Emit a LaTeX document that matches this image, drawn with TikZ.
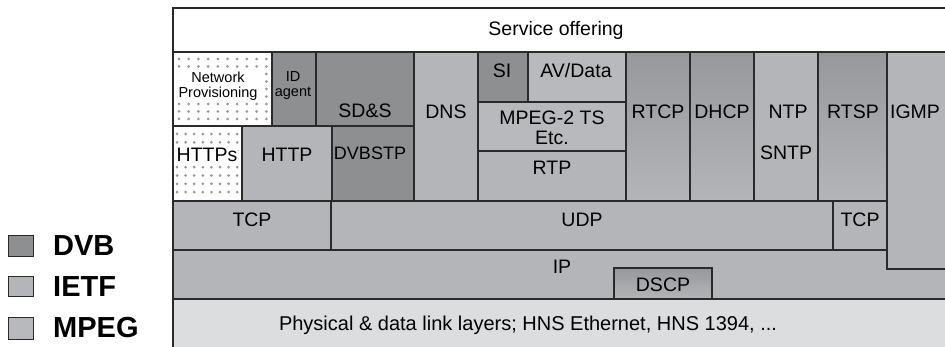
\documentclass[tikz,border=0pt]{standalone}
\usepackage{fontspec}
\setmainfont{Liberation Sans}
\definecolor{dvbgray}{HTML}{8E8F91}
\definecolor{ietfgray}{HTML}{B4B5B8}
\definecolor{mpeggray}{HTML}{B8B9BC}
\definecolor{physgray}{HTML}{DCDDDF}
\definecolor{gradtop}{HTML}{97989B}
\definecolor{linegray}{HTML}{2A2A2A}
\definecolor{dotgray}{HTML}{999999}
\tikzset{
  layer/.style={draw=linegray, line width=1.3pt},
  dvb/.style={layer, fill=dvbgray},
  ietf/.style={layer, fill=ietfgray},
  mpeg/.style={layer, fill=mpeggray},
  shaded/.style={layer, top color=gradtop, bottom color=ietfgray},
  lbl/.style={font=\fontsize{19.5}{20}\selectfont, inner sep=0pt, align=center},
  small/.style={font=\fontsize{14.5}{15}\selectfont, inner sep=1pt, align=center},
  legbox/.style={draw=linegray, line width=1pt},
  legtext/.style={font=\fontsize{29}{29}\selectfont\bfseries, anchor=west, inner sep=0pt}
}
\begin{document}
\begin{tikzpicture}[x=1pt, y=-1pt]
        \useasboundingbox (0,0) rectangle (945,347);

        % Layers
        \draw[layer, fill=white] (173,8) rectangle (947,52);
        \draw[layer, fill=white] (173,52) rectangle (272,126);
        \draw[dvb] (272,52) rectangle (316,126);
        \draw[dvb] (316,52) rectangle (414,126);
        \draw[layer, fill=white] (173,126) rectangle (242,201);
        \draw[ietf] (242,126) rectangle (332,201);
        \draw[dvb] (332,126) rectangle (414,201);
        \draw[ietf] (414,52) rectangle (478,201);
        \draw[dvb] (478,52) rectangle (528,102);
        \draw[mpeg] (528,52) rectangle (626,102);
        \draw[mpeg] (478,102) rectangle (626,151);
        \draw[ietf] (478,151) rectangle (626,201);
        \draw[shaded] (626,52) rectangle (690,201);
        \draw[shaded] (690,52) rectangle (754,201);
        \draw[ietf] (754,52) rectangle (818,201);
        \draw[shaded] (818,52) rectangle (887,201);
        \draw[ietf] (173,201) rectangle (331,250);
        \draw[ietf] (331,201) rectangle (833,250);
        \draw[ietf] (833,201) rectangle (887,250);
        \draw[ietf] (173,250) rectangle (947,299);
        \draw[ietf] (887,52) rectangle (947,269);
        \draw[layer, top color=gradtop, bottom color=ietfgray] (614,268) rectangle (712,299);
        \draw[layer, fill=physgray] (173,299) rectangle (947,350);

        % Dots
        \foreach \i in {0,...,9}
          \foreach \j in {0,...,8}
            \fill[dotgray] (179+\i*9.7, 59+\j*7.5) circle (1.5pt);
        \foreach \i in {0,...,7}
          \foreach \j in {0,...,7}
            \fill[dotgray] (177+\i*8.6, 134+\j*8.3) circle (1.5pt);

        % Labels
        \node (service) [lbl] at (556,30) {Service offering};
        \node (netprov) [small, fill=white] at (218,86) {Network\\Provisioning};
        \node (idagent) [small] at (293,86) {ID\\agent};
        \node (sds) [lbl] at (365,111) {SD\&S};
        \node (dns) [lbl] at (446,112) {DNS};
        \node (https) [lbl, fill=white, inner sep=1pt] at (207,155) {HTTPs};
        \node (http) [lbl] at (287,155) {HTTP};
        \node (dvbstp) [lbl, font=\fontsize{18}{19}\selectfont] at (370,153) {DVBSTP};
        \node (si) [lbl] at (502,71) {SI};
        \node (avdata) [lbl] at (576,71) {AV/Data};
        \node (mpegts) [lbl] at (552,128) {MPEG-2 TS\\Etc.};
        \node (rtp) [lbl] at (552,168) {RTP};
        \node (rtcp) [lbl] at (658,112) {RTCP};
        \node (dhcp) [lbl] at (722,112) {DHCP};
        \node (ntp) [lbl] at (788,112) {NTP};
        \node (sntp) [lbl] at (786,153) {SNTP};
        \node (rtsp) [lbl] at (853,112) {RTSP};
        \node (igmp) [lbl] at (915,112) {IGMP};
        \node (tcpa) [lbl] at (252,220) {TCP};
        \node (udp) [lbl] at (582,220) {UDP};
        \node (tcpb) [lbl] at (860,220) {TCP};
        \node (ip) [lbl] at (562,267) {IP};
        \node (dscp) [lbl] at (663,285) {DSCP};
        \node (phys) [lbl, font=\fontsize{20}{21}\selectfont] at (528,325) {Physical \& data link layers; HNS Ethernet, HNS 1394, ...};

        % Legend
        \draw[legbox, fill=dvbgray] (8,236) rectangle (33,257);
        \draw[legbox, fill=ietfgray] (8,277) rectangle (33,297);
        \draw[legbox, fill=mpeggray] (8,318) rectangle (33,339);
        \node (dvb) [legtext] at (53,246) {DVB};
        \node (ietf) [legtext] at (53,287) {IETF};
        \node (mpeg) [legtext] at (53,328) {MPEG};

    \end{tikzpicture}
\end{document}
